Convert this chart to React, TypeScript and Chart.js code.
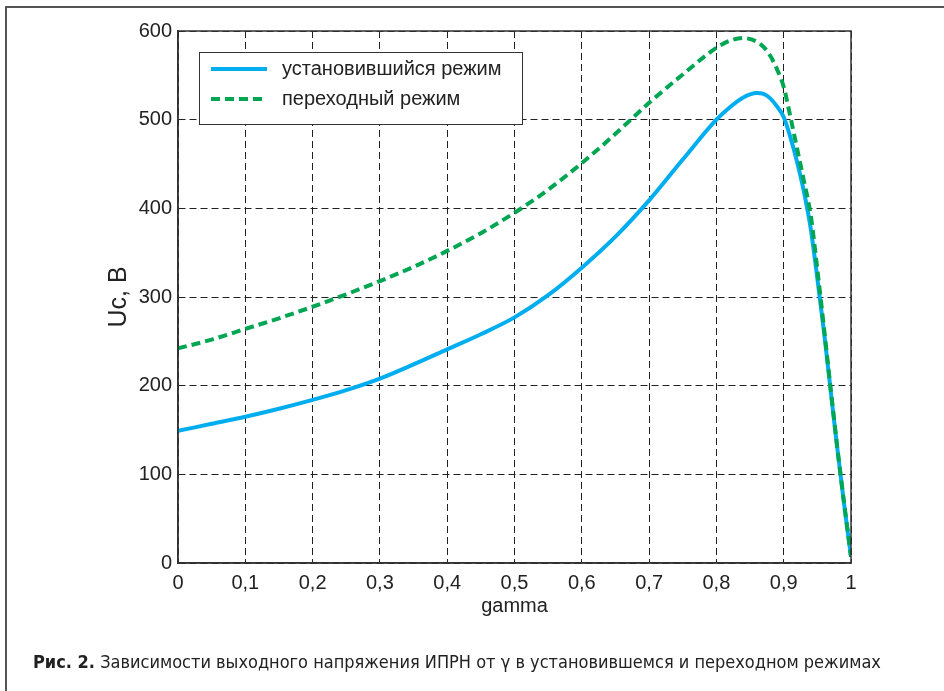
import React, { useEffect, useRef } from "react";
import { Chart, registerables } from "chart.js";

Chart.register(...registerables);

const gammaValues = [
  0, 0.05, 0.1, 0.15, 0.2, 0.25, 0.3, 0.35, 0.4, 0.45, 0.5, 0.55, 0.6, 0.65, 0.7, 0.75, 0.8,
  0.82, 0.84, 0.86, 0.87, 0.88, 0.89, 0.9, 0.91, 0.92, 0.93, 0.94, 0.95, 0.96, 0.97, 0.98, 0.99, 1,
];

const steadyValues = [
  149, 157, 165, 174, 184, 195, 208, 224, 241, 258, 277, 302, 333, 368, 409, 455, 500,
  514, 525, 530, 529, 524, 515, 503, 480, 452, 419, 378, 321, 260, 193, 127, 65, 7,
];

const transientValues = [
  242, 252, 264, 276, 289, 303, 318, 334, 352, 372, 395, 421, 451, 484, 519, 551, 581,
  589, 592, 588, 582, 572, 557, 537, 503, 467, 431, 393, 331, 264, 195, 128, 66, 7,
];

const seriesLabels = ["установившийся режим", "переходный режим"];
const xTicks = [0, 0.1, 0.2, 0.3, 0.4, 0.5, 0.6, 0.7, 0.8, 0.9, 1];
const yTicks = [0, 100, 200, 300, 400, 500, 600];

const FONT = "'Liberation Sans', Arial, sans-serif";

const boxPlugin = {
  id: "boxPlugin",
  afterDatasetsDraw(chart: any) {
    const { ctx, chartArea } = chart;
    ctx.save();
    ctx.strokeStyle = "#333";
    ctx.lineWidth = 1.5;
    ctx.setLineDash([]);
    ctx.strokeRect(chartArea.left, chartArea.top, chartArea.right - chartArea.left, chartArea.bottom - chartArea.top);

    // legend box
    const lx = 199, ly = 52, lw = 323, lh = 72;
    ctx.fillStyle = "#fff";
    ctx.fillRect(lx, ly, lw, lh);
    ctx.strokeStyle = "#333";
    ctx.lineWidth = 1;
    ctx.strokeRect(lx + 0.5, ly + 0.5, lw, lh);
    const rows = [69, 99];
    chart.data.datasets.forEach((ds: any, i: number) => {
      const y = rows[i];
      ctx.save();
      ctx.strokeStyle = ds.borderColor;
      ctx.lineWidth = ds.borderWidth;
      ctx.setLineDash(ds.borderDash || []);
      ctx.beginPath();
      ctx.moveTo(211, y);
      ctx.lineTo(267, y);
      ctx.stroke();
      ctx.restore();
      ctx.fillStyle = "#222";
      ctx.font = `20px ${FONT}`;
      ctx.textBaseline = "middle";
      ctx.textAlign = "left";
      ctx.fillText(ds.label, 282, y);
    });
    ctx.restore();
  },
};

const fmt = (v: number) => {
  const r = Math.round(v * 10) / 10;
  return String(r).replace(".", ",");
};

export default function App() {
  const canvasRef = useRef<HTMLCanvasElement | null>(null);

  useEffect(() => {
    document.body.style.margin = "0";
    const canvas = canvasRef.current;
    if (!canvas) return;
    const chart = new Chart(canvas, {
      type: "line",
      data: {
        datasets: [
          {
            label: seriesLabels[0],
            data: gammaValues.map((g, i) => ({ x: g, y: steadyValues[i] })),
            borderColor: "#00AEEF",
            borderWidth: 4,
            pointRadius: 0,
            cubicInterpolationMode: "monotone",
            fill: false,
            order: 1,
          },
          {
            label: seriesLabels[1],
            data: gammaValues.map((g, i) => ({ x: g, y: transientValues[i] })),
            borderColor: "#00A651",
            borderWidth: 4,
            borderDash: [9, 5],
            pointRadius: 0,
            cubicInterpolationMode: "monotone",
            fill: false,
            order: 0,
          },
        ],
      },
      options: {
        animation: false,
        responsive: false,
        devicePixelRatio: 1,
        layout: { padding: { left: 0, top: 31, right: 93, bottom: 68 } },
        plugins: {
          legend: { display: false },
          tooltip: { enabled: false },
        },
        scales: {
          x: {
            type: "linear",
            min: 0,
            max: 1,
            afterBuildTicks: (scale: any) => {
              scale.ticks = xTicks.map((v) => ({ value: v }));
            },
            afterFit: (scale: any) => {
              scale.height = 60;
            },
            ticks: {
              callback: (v: any) => fmt(Number(v)),
              font: { family: FONT, size: 20 },
              color: "#222",
              padding: 8,
              maxRotation: 0,
              autoSkip: false,
            },
            grid: { color: "#222", lineWidth: 1, drawTicks: false },
            border: { display: true, color: "#333", width: 1.5, dash: [7, 4] },
            title: {
              display: true,
              text: "gamma",
              font: { family: FONT, size: 20 },
              color: "#222",
              padding: { top: 0, bottom: 5 },
            },
          },
          y: {
            type: "linear",
            min: 0,
            max: 600,
            afterBuildTicks: (scale: any) => {
              scale.ticks = yTicks.map((v) => ({ value: v }));
            },
            afterFit: (scale: any) => {
              scale.width = 178;
            },
            ticks: {
              font: { family: FONT, size: 20 },
              color: "#222",
              padding: 6,
            },
            grid: { color: "#222", lineWidth: 1, drawTicks: false },
            border: { display: true, color: "#333", width: 1.5, dash: [7, 4] },
            title: {
              display: true,
              text: "Uc, B",
              font: { family: FONT, size: 25 },
              color: "#222",
              padding: { top: 104, bottom: 0 },
            },
          },
        },
      },
      plugins: [boxPlugin],
    } as any);
    return () => chart.destroy();
  }, []);

  return (
    <div
      style={{
        position: "absolute",
        left: 0,
        top: 0,
        width: 944,
        height: 691,
        overflow: "hidden",
        background: "#fff",
      }}
    >
      <div
        style={{
          position: "absolute",
          left: 5,
          top: 6,
          width: 960,
          height: 700,
          borderLeft: "2px solid #555",
          borderTop: "2px solid #555",
          boxSizing: "border-box",
        }}
      />
      <canvas
        ref={canvasRef}
        width={944}
        height={691}
        style={{ position: "absolute", left: 0, top: 0, width: 944, height: 691 }}
      />
      <div
        style={{
          position: "absolute",
          left: 33,
          top: 651,
          fontFamily: "'Liberation Sans Narrow', 'DejaVu Sans Condensed', 'Roboto Condensed', sans-serif",
          fontSize: 18,
          color: "#222",
          whiteSpace: "nowrap",
          lineHeight: "22px",
        }}
      >
        <b>Рис. 2.</b> Зависимости выходного напряжения ИПРН от γ в установившемся и переходном режимах
      </div>
    </div>
  );
}
